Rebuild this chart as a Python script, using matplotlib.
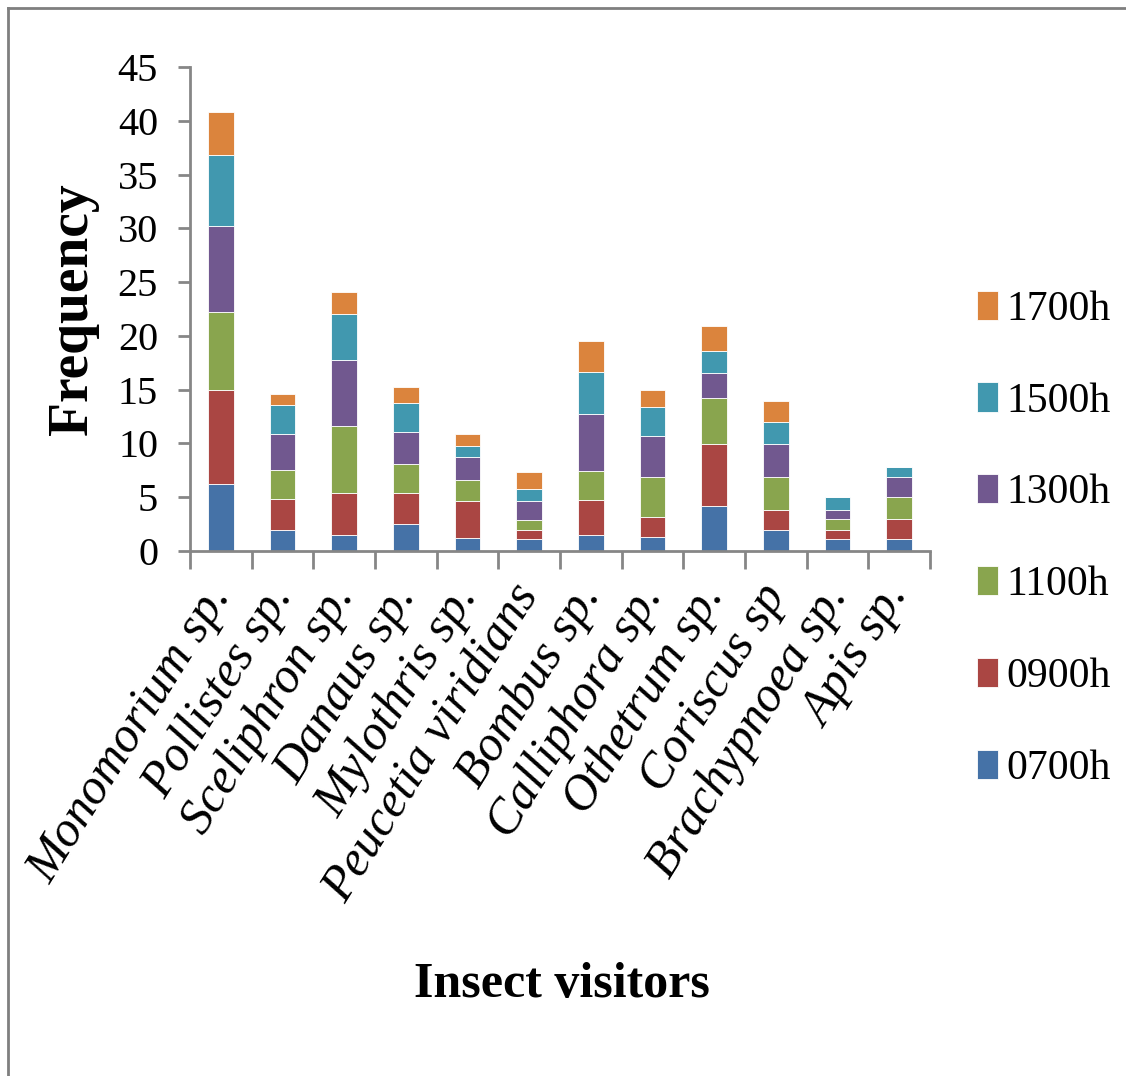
import numpy as np
import matplotlib.pyplot as plt
import matplotlib
from matplotlib.lines import Line2D

matplotlib.rcParams["font.family"] = ["Liberation Serif", "DejaVu Serif"]

species = ["Monomorium sp.", "Pollistes sp.", "Sceliphron sp.", "Danaus sp.",
           "Mylothris sp.", "Peucetia viridians", "Bombus sp.", "Calliphora sp.",
           "Othetrum sp.", "Coriscus sp", "Brachypnoea sp.", "Apis sp."]
hours = ["0700h", "0900h", "1100h", "1300h", "1500h", "1700h"]

h0700 = [6.2, 1.9, 1.5, 2.5, 1.2, 1.1, 1.5, 1.3, 4.2, 1.9, 1.1, 1.1]
h0900 = [8.8, 2.9, 3.9, 2.9, 3.4, 0.8, 3.2, 1.9, 5.7, 1.9, 0.8, 1.9]
h1100 = [7.2, 2.7, 6.2, 2.7, 2.0, 1.0, 2.7, 3.7, 4.3, 3.1, 1.1, 2.0]
h1300 = [8.0, 3.4, 6.2, 3.0, 2.1, 1.7, 5.3, 3.8, 2.3, 3.0, 0.8, 1.9]
h1500 = [6.6, 2.7, 4.2, 2.7, 1.1, 1.2, 3.9, 2.7, 2.1, 2.1, 1.2, 0.9]
h1700 = [4.0, 1.0, 2.1, 1.4, 1.1, 1.5, 2.9, 1.6, 2.3, 1.9, 0.0, 0.0]

series = [h0700, h0900, h1100, h1300, h1500, h1700]
colors = ["#4572A7", "#AA4643", "#89A54E", "#71588F", "#4198AF", "#DB843D"]
axis_grey = "#868686"

fig = plt.figure(figsize=(11.26, 10.76), dpi=100)
ax = fig.add_axes([0.1687, 0.488, 0.6572, 0.4497])

x = np.arange(len(species))
bottom = np.zeros(len(species))
bars = []
for vals, col, lab in zip(series, colors, hours):
    vals = np.array(vals)
    b = ax.bar(x, vals, width=0.42, bottom=bottom, color=col, label=lab,
               edgecolor="#ffffff", linewidth=0.6)
    bars.append(b)
    bottom += vals

ax.set_xlim(-0.5, len(species) - 0.5)
ax.set_ylim(0, 45)
ax.set_yticks(range(0, 46, 5))
ax.tick_params(axis="y", direction="out", length=9, width=2, color=axis_grey,
               labelsize=29, pad=14)

# boundary ticks between categories, names centred under each bar
ax.set_xticks(np.arange(-0.5, len(species), 1.0))
ax.set_xticklabels([])
ax.set_xticks(x, minor=True)
ax.set_xticklabels(species, minor=True, rotation=58, ha="right", va="center",
                   rotation_mode="anchor", fontstyle="italic", fontsize=36)
ax.tick_params(axis="x", which="major", direction="out", length=13, width=2,
               color=axis_grey)
ax.tick_params(axis="x", which="minor", length=0, pad=27)

for side in ["top", "right"]:
    ax.spines[side].set_visible(False)
for side in ["left", "bottom"]:
    ax.spines[side].set_color(axis_grey)
    ax.spines[side].set_linewidth(2)

fig.text(0.065, 0.713, "Frequency", rotation=90, ha="center", va="center",
         fontsize=40, fontweight="bold")
fig.text(0.499, 0.0846, "Insect visitors", ha="center", va="center",
         fontsize=36, fontweight="bold")

handles = [bars[i] for i in range(len(bars) - 1, -1, -1)]
labels = [hours[i] for i in range(len(hours) - 1, -1, -1)]
fig.legend(handles, labels, loc="center left", bbox_to_anchor=(0.868, 0.499),
           frameon=False, fontsize=30, handlelength=0.5, handleheight=0.7,
           handletextpad=0.2, labelspacing=1.28, borderpad=0, borderaxespad=0)

# thin outer frame along the left and top edges
fig.add_artist(Line2D([0.0071, 0.0071], [0, 0.9925], transform=fig.transFigure,
                      color="#7f7f7f", linewidth=2))
fig.add_artist(Line2D([0.0071, 1.0], [0.9925, 0.9925], transform=fig.transFigure,
                      color="#7f7f7f", linewidth=2))

fig.savefig("out.png", dpi=100)
